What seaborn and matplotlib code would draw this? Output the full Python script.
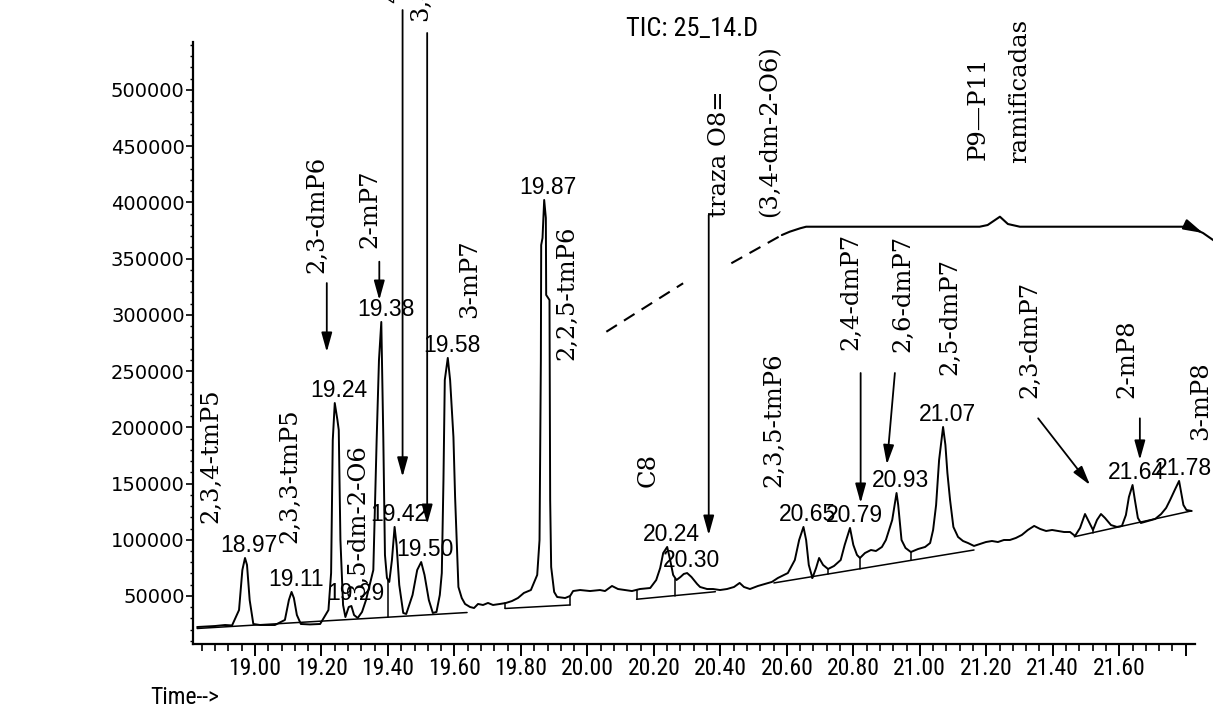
import numpy as np
import matplotlib
matplotlib.use("Agg")
import matplotlib.pyplot as plt
from matplotlib import font_manager
from matplotlib.patches import ArrowStyle
from matplotlib.ticker import MultipleLocator, FixedLocator, FuncFormatter
import seaborn as sns

# ---------------------------------------------------------------- data
# Total ion chromatogram, retention time (min) and abundance (counts)
trace_time = [
    18.826, 18.880, 18.910, 18.931, 18.952, 18.962, 18.970, 18.976, 18.984, 18.995,
    19.015, 19.060, 19.090, 19.102, 19.110, 19.117, 19.126, 19.138, 19.165, 19.196,
    19.221, 19.229, 19.234, 19.240, 19.248, 19.252, 19.257, 19.265, 19.272, 19.282,
    19.290, 19.298, 19.309, 19.322, 19.334, 19.356, 19.366, 19.373, 19.380, 19.386,
    19.391, 19.397, 19.404, 19.412, 19.420, 19.426, 19.434, 19.446, 19.455, 19.474,
    19.488, 19.500, 19.510, 19.523, 19.535, 19.546, 19.556, 19.562, 19.567, 19.571,
    19.580, 19.587, 19.597, 19.602, 19.612, 19.622, 19.632, 19.647, 19.659, 19.671,
    19.686, 19.701, 19.716, 19.737, 19.755, 19.773, 19.791, 19.809, 19.830, 19.849,
    19.856, 19.860, 19.861, 19.865, 19.870, 19.875, 19.876, 19.886, 19.888, 19.891,
    19.900, 19.909, 19.933, 19.948, 19.957, 19.978, 20.008, 20.038, 20.053, 20.074,
    20.092, 20.113, 20.134, 20.158, 20.189, 20.207, 20.219, 20.228, 20.240, 20.249,
    20.258, 20.268, 20.280, 20.290, 20.300, 20.313, 20.330, 20.339, 20.360, 20.378,
    20.399, 20.420, 20.441, 20.458, 20.471, 20.489, 20.513, 20.534, 20.555, 20.573,
    20.591, 20.603, 20.624, 20.637, 20.650, 20.658, 20.666, 20.677, 20.688, 20.697,
    20.709, 20.724, 20.742, 20.762, 20.774, 20.790, 20.800, 20.811, 20.820, 20.835,
    20.853, 20.868, 20.886, 20.898, 20.917, 20.930, 20.935, 20.945, 20.957, 20.973,
    20.995, 21.016, 21.031, 21.040, 21.049, 21.058, 21.070, 21.077, 21.083, 21.091,
    21.101, 21.115, 21.130, 21.145, 21.163, 21.181, 21.199, 21.217, 21.235, 21.253,
    21.271, 21.289, 21.307, 21.325, 21.344, 21.362, 21.380, 21.398, 21.416, 21.434,
    21.452, 21.467, 21.482, 21.497, 21.509, 21.521, 21.533, 21.545, 21.557, 21.575,
    21.593, 21.608, 21.620, 21.629, 21.640, 21.647, 21.656, 21.665, 21.686, 21.708,
    21.726, 21.741, 21.753, 21.767, 21.780, 21.786, 21.793, 21.802, 21.818,
]
trace_signal = [
    22400, 23300, 24200, 23800, 37500, 73100, 83800, 77600, 46400, 25100,
    24200, 24200, 28700, 46400, 53600, 48200, 33100, 25100, 24700, 25100,
    37500, 70400, 188700, 221600, 206500, 197600, 99800, 42000, 31300, 40200,
    41100, 33100, 30400, 35800, 46400, 73100, 188700, 259900, 293700, 191400,
    86500, 66000, 62500, 82000, 111400, 95400, 59800, 34900, 34000, 50900,
    73100, 80200, 68700, 46400, 34900, 35800, 50900, 70400, 153200, 242100,
    261700, 242100, 191400, 138000, 58000, 48200, 42900, 40200, 39300, 42900,
    42000, 43800, 42000, 42900, 43800, 45500, 48200, 52700, 55300, 68700,
    99800, 259900, 362100, 368400, 402200, 386200, 317700, 313200, 135400, 75800,
    53600, 49100, 48200, 50000, 54400, 55300, 54400, 55300, 54400, 58900,
    56200, 55300, 54400, 56200, 57100, 64200, 74900, 88200, 93600, 82000,
    68700, 64200, 66900, 69600, 70400, 66900, 60700, 58000, 56200, 56200,
    55300, 56200, 58000, 61600, 58000, 56200, 58900, 60700, 62500, 66000,
    68700, 70400, 82000, 99800, 111400, 99800, 77600, 66000, 74900, 83800,
    77600, 74000, 76700, 82000, 95400, 110500, 95400, 86500, 83800, 88200,
    90900, 90000, 93600, 99800, 117600, 141600, 130900, 99800, 92700, 89100,
    91800, 93600, 97100, 108700, 130900, 170900, 200300, 184300, 159400, 135400,
    111400, 102500, 98900, 97100, 94500, 96200, 98000, 98900, 98000, 99800,
    99800, 101600, 104300, 108700, 112300, 109600, 107800, 108700, 107800, 106900,
    106900, 103400, 110500, 122900, 115800, 108700, 117600, 122900, 119400, 113100,
    111400, 112300, 122000, 138000, 148700, 135400, 119400, 114900, 116700, 118500,
    122900, 128300, 135400, 144300, 152300, 142500, 130900, 126500, 125600,
]

# Retention times printed over the integrated peaks
peak_rt = [18.97, 19.11, 19.24, 19.29, 19.38, 19.42, 19.50, 19.58, 19.87,
           20.24, 20.30, 20.65, 20.79, 20.93, 21.07, 21.64, 21.78]

# Integration baselines (start / end of each segment)
baseline_start_rt = [18.826, 19.752, 20.148, 20.561, 21.465, 21.665]
baseline_end_rt = [19.638, 19.948, 20.385, 21.163, 21.665, 21.816]
baseline_start_signal = [21100, 38900, 47100, 61600, 102700, 115800]
baseline_end_signal = [35300, 42000, 53800, 90900, 115800, 125600]

# Perpendicular drops separating neighbouring peaks
drop_rt = [19.400, 19.752, 19.948, 20.148, 20.265, 20.677, 20.724, 20.820, 20.973, 21.521]

# Compound annotations (vertical text; rt = centre, level = foot of the text)
compound_names = ["2,3,4-tmP5", "2,3,3-tmP5", "3,5-dm-2-O6", "2,3-dmP6", "2-mP7",
                  "4-mP7", "3,4-dmP6", "3-mP7", "2,2,5-tmP6", "C8", "traza O8=",
                  "(3,4-dm-2-O6)", "2,3,5-tmP6", "2,4-dmP7", "2,6-dmP7", "2,5-dmP7",
                  "P9\u2014P11", "ramificadas", "2,3-dmP7", "2-mP8", "3-mP8"]
compound_rt = [18.867, 19.105, 19.308, 19.186, 19.346,
               19.415, 19.499, 19.647, 19.938, 20.184, 20.397,
               20.548, 20.561, 20.792, 20.949, 21.089,
               21.174, 21.301, 21.331, 21.622, 21.846]
compound_level = [114700, 96900, 49100, 337000, 359200,
                  577300, 561300, 297000, 259900, 147200, 387000,
                  387300, 147200, 268800, 267000, 246500,
                  437700, 435100, 225800, 225800, 188700]

# Pointer arrows from the names down to their peaks
arrow_tail_rt = [19.216, 19.374, 19.444, 19.518, 20.365, 20.822, 20.925, 21.356, 21.662]
arrow_tail_signal = [328300, 347300, 571100, 550700, 388800, 248300, 248300, 208000, 208000]
arrow_tip_rt = [19.216, 19.374, 19.444, 19.518, 20.365, 20.822, 20.901, 21.512, 21.662]
arrow_tip_signal = [267000, 313200, 156000, 114000, 104200, 132700, 167000, 148700, 171000]

# Bracket marking the branched P9-P11 region
branch_dash1_rt = [20.057, 20.288]
branch_dash1_signal = [285000, 328100]
branch_dash2_rt = [20.433, 20.585]
branch_dash2_signal = [345900, 371000]
bracket_rt = [20.585, 20.609, 20.640, 20.658, 21.180, 21.204, 21.241, 21.265, 21.301, 21.812]
bracket_signal = [371000, 374000, 377000, 378400, 378400, 379900, 387300, 380800, 378400, 378400]
bracket_end_rt = [21.812, 21.852, 21.890]
bracket_end_signal = [378400, 372800, 365000]

y_ticks = [50000, 100000, 150000, 200000, 250000, 300000, 350000, 400000, 450000, 500000]
x_ticks = [19.0, 19.2, 19.4, 19.6, 19.8, 20.0, 20.2, 20.4, 20.6, 20.8, 21.0, 21.2, 21.4, 21.6, 21.8]
x_tick_labels = ["19.00", "19.20", "19.40", "19.60", "19.80", "20.00", "20.20", "20.40",
                 "20.60", "20.80", "21.00", "21.20", "21.40", "21.60", ""]

# ---------------------------------------------------------------- style
sns.set_theme(style="ticks")
plt.rcParams["font.family"] = ["DejaVu Sans"]


def pick_narrow_font():
    fonts = font_manager.fontManager.ttflist
    names = {f.name for f in fonts}
    for cand in ("Liberation Sans Narrow", "Arial Narrow", "Roboto Condensed",
                 "Open Sans Condensed", "DejaVu Sans Condensed"):
        if cand in names:
            return dict(family=cand), 1.0
    for f in fonts:
        if f.name == "DejaVu Sans" and str(f.stretch) in ("condensed", "semi-condensed", "600", "500", "400"):
            if str(f.stretch) != "normal" and "Condensed" in f.fname:
                return dict(family="DejaVu Sans", stretch="condensed"), 0.95
    return dict(family="Liberation Sans"), 0.88


narrow, narrow_scale = pick_narrow_font()
serif = dict(family="DejaVu Serif", size=17.5)
label_font = dict(family="Liberation Sans", size=16.5)

INK = "black"

fig = plt.figure(figsize=(12.13, 7.15), dpi=100, facecolor="white")
ax = fig.add_axes([0.1591, 0.0993, 0.8261, 0.842])
ax.set_facecolor("white")

sns.lineplot(x=trace_time, y=trace_signal, ax=ax, color=INK, linewidth=1.4,
             estimator=None, sort=False)

# integration baselines
for t0, t1, s0, s1 in zip(baseline_start_rt, baseline_end_rt,
                          baseline_start_signal, baseline_end_signal):
    ax.plot([t0, t1], [s0, s1], color=INK, lw=1.1)


def baseline_at(rt):
    for t0, t1, s0, s1 in zip(baseline_start_rt, baseline_end_rt,
                              baseline_start_signal, baseline_end_signal):
        if t0 - 1e-9 <= rt <= t1 + 1e-9:
            return s0 + (s1 - s0) * (rt - t0) / (t1 - t0)
    return None


for rt in drop_rt:
    ax.plot([rt, rt], [baseline_at(rt), np.interp(rt, trace_time, trace_signal)],
            color=INK, lw=1.1)

# retention-time labels over each apex
for rt in peak_rt:
    apex = np.interp(rt, trace_time, trace_signal)
    ax.annotate(f"{rt:.2f}", xy=(rt, apex), xytext=(3, 4), textcoords="offset points",
                ha="center", va="baseline", color=INK, **label_font)

# compound names
for name, rt, lev in zip(compound_names, compound_rt, compound_level):
    ax.text(rt, lev, name, rotation=90, ha="center", va="bottom", color=INK,
            clip_on=False, **serif)

# pointer arrows
head = ArrowStyle("-|>", head_length=0.9, head_width=0.25)
for t0, s0, t1, s1 in zip(arrow_tail_rt, arrow_tail_signal, arrow_tip_rt, arrow_tip_signal):
    ax.annotate("", xy=(t1, s1), xytext=(t0, s0), annotation_clip=False,
                arrowprops=dict(arrowstyle=head, color=INK, lw=1.3,
                                mutation_scale=13, shrinkA=0, shrinkB=0))

# branched-paraffin bracket
ax.plot(branch_dash1_rt, branch_dash1_signal, color=INK, lw=1.5, dashes=(6, 4))
ax.plot(branch_dash2_rt, branch_dash2_signal, color=INK, lw=1.5, dashes=(6, 4))
ax.plot(bracket_rt, bracket_signal, color=INK, lw=1.5)
ax.plot(bracket_end_rt, bracket_end_signal, color=INK, lw=1.5, clip_on=False)
ax.annotate("", xy=(bracket_end_rt[1], bracket_end_signal[1]),
            xytext=(bracket_end_rt[0], bracket_end_signal[0]), annotation_clip=False,
            arrowprops=dict(arrowstyle=head, color=INK, lw=1.5, mutation_scale=13,
                            shrinkA=0, shrinkB=0))

# ---------------------------------------------------------------- axes
ax.set_xlim(18.8135, 21.828)
ax.set_ylim(7300, 542700)
ax.spines[["top", "right"]].set_visible(False)
for side in ("left", "bottom"):
    ax.spines[side].set_linewidth(1.6)
    ax.spines[side].set_color(INK)

ax.xaxis.set_major_locator(FixedLocator(x_ticks))
ax.set_xticklabels(x_tick_labels, size=17 * narrow_scale, **narrow)
ax.xaxis.set_minor_locator(MultipleLocator(0.04, offset=0.0))
ax.yaxis.set_major_locator(FixedLocator(y_ticks))
ax.yaxis.set_major_formatter(FuncFormatter(lambda v, _: f"{int(v)}"))
ax.yaxis.set_minor_locator(MultipleLocator(10000))
for lab in ax.get_yticklabels():
    lab.set_family("DejaVu Sans")
    lab.set_fontsize(14)

ax.tick_params(axis="x", which="major", direction="out", length=8.5, width=1.4,
               pad=1, colors=INK)
ax.tick_params(axis="x", which="minor", direction="out", length=5, width=1.2, colors=INK)
ax.tick_params(axis="y", which="major", direction="out", length=5, width=1.2,
               pad=1, colors=INK, labelsize=14)
ax.tick_params(axis="y", which="minor", direction="out", length=2.5, width=1.0, colors=INK)
ax.set_xlabel("")
ax.set_ylabel("")

fig.text(692 / 1213, 1 - 29 / 715, "TIC: 25_14.D", ha="center", va="center",
         color=INK, size=19 * narrow_scale, **narrow)
fig.text(150 / 1213, 1 - 697 / 715, "Time-->", ha="left", va="center",
         color=INK, size=17 * narrow_scale, **narrow)

fig.savefig("out.png", dpi=100, facecolor="white")
